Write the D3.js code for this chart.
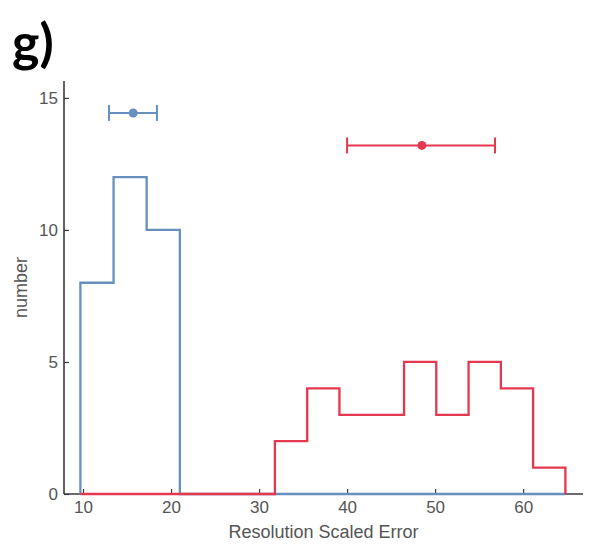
<!DOCTYPE html>
<html>
<head>
<meta charset="utf-8">
<script src="https://cdn.jsdelivr.net/npm/d3@7/dist/d3.min.js"></script>
<style>
  html, body { margin: 0; padding: 0; background: #fff; }
  svg { display: block; }
  .tick text { font-family: "Liberation Sans", Arial, sans-serif; }
</style>
</head>
<body>
<script>
// Histogram bin edges and counts for the two groups
const blueEdges = [9.7, 13.47, 17.23, 21.0];
const blueCounts = [8, 12, 10];
const redEdges = [31.8, 35.47, 39.13, 42.8, 46.47, 50.13, 53.8, 57.47, 61.13, 64.8];
const redCounts = [2, 4, 3, 3, 5, 3, 5, 4, 1];

// Mean and spread shown as horizontal error bars above each histogram
const blueStat = { mean: 15.7, lo: 12.95, hi: 18.4, y: 14.43 };
const redStat = { mean: 48.5, lo: 40.0, hi: 56.8, y: 13.2 };

const xTicks = [10, 20, 30, 40, 50, 60];
const yTicks = [0, 5, 10, 15];

const panelLabel = "g)";
const xLabel = "Resolution Scaled Error";
const yLabel = "number";

const W = 590, H = 550;
const plotLeft = 64, plotRight = 583, plotTop = 81, plotBottom = 494;
const blue = "#6790bf", red = "#e5384f";

const svg = d3.select("body").append("svg").attr("width", W).attr("height", H);

const x = d3.scaleLinear().domain([7.84, 66.8]).range([plotLeft, plotRight]);
const y = d3.scaleLinear().domain([0, 15.64]).range([plotBottom, plotTop]);

// Axes: MATLAB-style ticks pointing inward, no box
const xAxis = d3.axisBottom(x).tickValues(xTicks).tickSizeInner(-5).tickSizeOuter(0).tickPadding(7);
const yAxis = d3.axisLeft(y).tickValues(yTicks).tickSizeInner(-5).tickSizeOuter(0).tickPadding(6);

const gx = svg.append("g").attr("transform", `translate(0,${plotBottom})`).call(xAxis);
const gy = svg.append("g").attr("transform", `translate(${plotLeft},0)`).call(yAxis);

[gx, gy].forEach(g => {
  g.select(".domain").attr("stroke", "#3a3a3a").attr("stroke-width", 1.6);
  g.selectAll(".tick line").attr("stroke", "#3a3a3a").attr("stroke-width", 1.2);
  g.selectAll(".tick text").attr("fill", "#555").style("font-size", "17px");
});
gx.select(".domain").attr("d", `M${plotLeft},0H${plotRight}`);
gy.select(".domain").attr("d", `M0,${plotBottom}V${plotTop}`);

// Both outlines run along zero across the full binned range
const rangeStart = blueEdges[0];
const rangeEnd = redEdges[redEdges.length - 1];

function stairPoints(edges, counts) {
  const pts = [[rangeStart, 0]];
  pts.push([edges[0], 0]);
  counts.forEach((c, i) => {
    pts.push([edges[i], c]);
    pts.push([edges[i + 1], c]);
  });
  pts.push([edges[edges.length - 1], 0]);
  pts.push([rangeEnd, 0]);
  return pts;
}

const line = d3.line().x(d => x(d[0])).y(d => y(d[1]));

svg.append("path")
  .attr("d", line(stairPoints(blueEdges, blueCounts)))
  .attr("fill", "none").attr("stroke", blue).attr("stroke-width", 2.3);
svg.append("path")
  .attr("d", line(stairPoints(redEdges, redCounts)))
  .attr("fill", "none").attr("stroke", red).attr("stroke-width", 2.3);

// Error bars with end caps and a filled marker at the mean
function errorBar(s, color) {
  const g = svg.append("g").attr("stroke", color).attr("stroke-width", 2);
  const cy = y(s.y);
  g.append("line").attr("x1", x(s.lo)).attr("x2", x(s.hi)).attr("y1", cy).attr("y2", cy);
  [s.lo, s.hi].forEach(v => {
    g.append("line").attr("x1", x(v)).attr("x2", x(v)).attr("y1", cy - 8).attr("y2", cy + 8);
  });
  svg.append("circle").attr("cx", x(s.mean)).attr("cy", cy).attr("r", 4.5).attr("fill", color);
}
errorBar(blueStat, blue);
errorBar(redStat, red);

// Axis titles
svg.append("text")
  .attr("x", (plotLeft + plotRight) / 2).attr("y", 538)
  .attr("text-anchor", "middle")
  .attr("font-family", "Liberation Sans, Arial, sans-serif")
  .attr("font-size", 18).attr("fill", "#555")
  .text(xLabel);

svg.append("text")
  .attr("transform", `translate(27,${(plotTop + plotBottom) / 2}) rotate(-90)`)
  .attr("text-anchor", "middle")
  .attr("font-family", "Liberation Sans, Arial, sans-serif")
  .attr("font-size", 18).attr("fill", "#555")
  .text(yLabel);

// Panel label
svg.append("text")
  .attr("x", 12).attr("y", 61)
  .attr("font-family", "Lato, 'Open Sans', sans-serif")
  .attr("font-weight", "bold")
  .attr("font-size", 52).attr("fill", "#000")
  .text(panelLabel);
</script>
</body>
</html>
